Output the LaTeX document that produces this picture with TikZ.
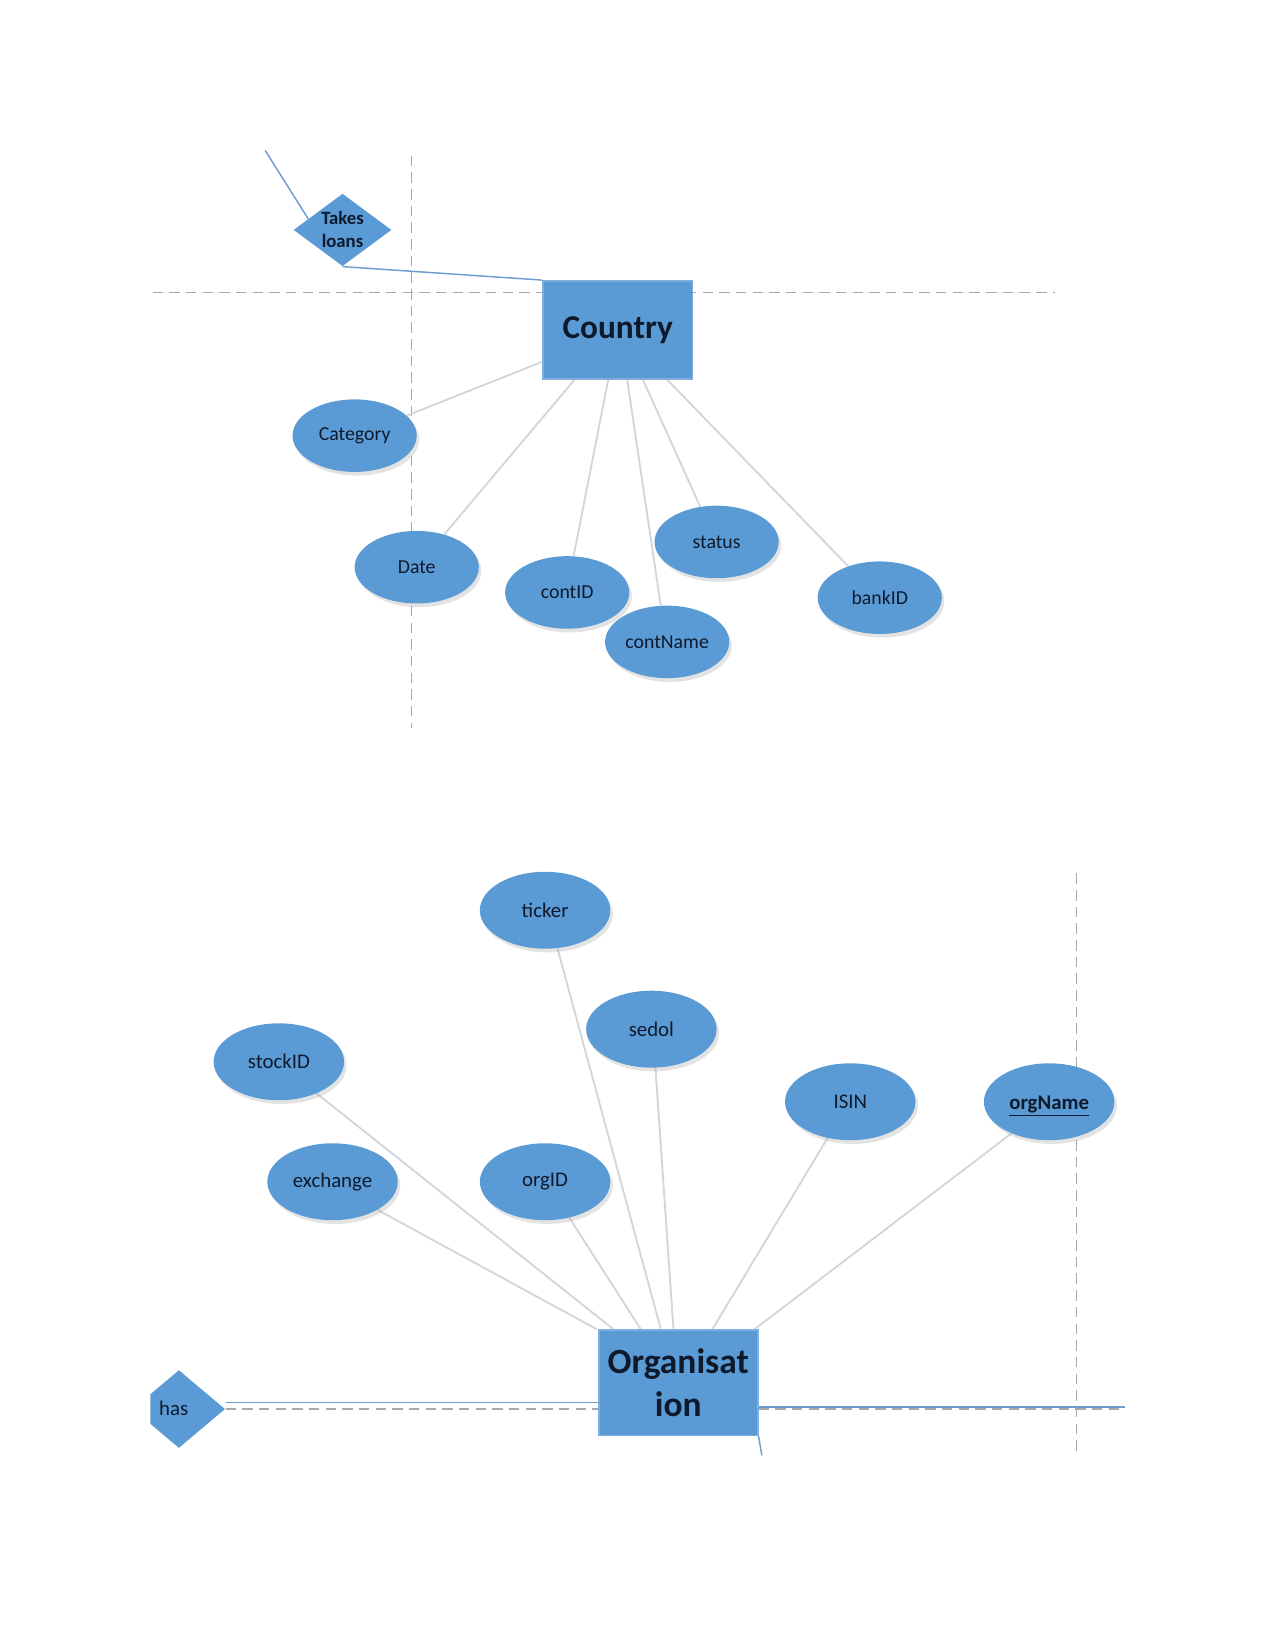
\documentclass[tikz,border=0pt]{standalone}
\usepackage{fontspec}
\setmainfont{Carlito}
\usetikzlibrary{shapes.geometric,shadows,calc}
\definecolor{efill}{HTML}{5B9BD5}
\definecolor{ebord}{HTML}{7FAEDF}
\definecolor{txt}{HTML}{0E1A2B}
\definecolor{cline}{HTML}{D2D6DA}
\definecolor{rline}{HTML}{6C9CD0}
\definecolor{gline}{HTML}{A8A8A8}
\pgfdeclarelayer{guides}
\pgfdeclarelayer{bg}
\pgfsetlayers{guides,bg,main}
\tikzset{
  attr/.style={ellipse, fill=efill, draw=none, inner sep=0pt,
    minimum width=59.6pt, minimum height=34.8pt,
    font=\fontsize{9.5}{11}\selectfont, text=txt,
    drop shadow={opacity=0.22, shadow xshift=1.2pt, shadow yshift=-1.8pt}},
  battr/.style={attr, minimum width=62.6pt, minimum height=36.9pt,
    font=\fontsize{10}{12}\selectfont},
  ent/.style={rectangle, fill=efill, draw=ebord, line width=0.8pt, inner sep=0pt,
    font=\bfseries\fontsize{16}{20.5}\selectfont, text=txt, align=center},
  relbox/.style={diamond, fill=efill, draw=none, inner sep=0pt, aspect=1.3},
  conn/.style={draw=cline, line width=0.9pt},
  rel/.style={draw=rline, line width=0.7pt},
  guide/.style={draw=gline, line width=0.6pt, dash pattern=on 5pt off 3pt},
}
\begin{document}
\begin{tikzpicture}[x=0.505pt, y=-0.505pt]
\useasboundingbox (0,0) rectangle (1212,1568);

% ---------- top part ----------
\node[ent, minimum width=71.7pt, minimum height=47pt] (country) at (587,313.5) {Country};
\node[relbox, minimum width=47pt, minimum height=34.8pt,
  label={[font=\bfseries\fontsize{9}{11}\selectfont, text=txt, align=center]center:Takes\\loans}]
  (takes) at (325.5,218.5) {};
\node[attr] (category) at (337,414) {Category};
\node[attr] (date) at (396,539) {Date};
\node[attr] (contid) at (539,563) {contID};
\node[attr] (contname) at (634,610) {contName};
\node[attr] (status) at (681,515) {status};
\node[attr] (bankid) at (836,568) {bankID};
\coordinate (tfree) at (252,143);

\begin{pgfonlayer}{guides}
  \draw[guide] (145,278) -- (1003,278);
  \draw[guide] (391,148) -- (391,692);
\end{pgfonlayer}

\begin{pgfonlayer}{bg}
  \draw[rel] (tfree) -- (takes.162);
  \draw[rel] (takes.south) -- (country.north west);
  \draw[conn] ($(country.south west)+(0,-17)$) -- (category.21);
  \draw[conn] ($(country.south)+(-41,0)$) -- (date.50);
  \draw[conn] ($(country.south)+(-9,0)$) -- (contid.80);
  \draw[conn] ($(country.south)+(9,0)$) -- (contname.100);
  \draw[conn] ($(country.south)+(24,0)$) -- (status.115);
  \draw[conn] ($(country.south)+(47,0)$) -- (bankid.135);
\end{pgfonlayer}

% ---------- bottom part ----------
\node[ent, minimum width=76.3pt, minimum height=50.5pt,
  font=\bfseries\fontsize{17}{20.5}\selectfont] (org) at (644.5,1314) {Organisat\\ion};
\node[battr] (ticker) at (518,865) {ticker};
\node[battr] (sedol) at (619,978) {sedol};
\node[battr] (stockid) at (265,1009) {stockID};
\node[battr] (isin) at (808,1047) {ISIN};
\node[battr, text height=7pt, text depth=0pt] (orgname) at (997,1047) {\underline{\textbf{orgName}}};
\node[battr] (exchange) at (316,1123) {exchange};
\node[battr] (orgid) at (518,1123) {orgID};

\begin{scope}
  \clip (143,1290) rectangle (260,1390);
  \node[relbox, minimum width=44.4pt, minimum height=37.4pt] (has) at (170,1339) {};
\end{scope}
\node[font=\fontsize{10}{12}\selectfont, text=txt, inner sep=0pt] (haslbl) at (165,1338) {has};

\coordinate (rfree) at (1069,1337);
\coordinate (bfree) at (724,1383);

\begin{pgfonlayer}{guides}
  \draw[guide] (1023,830) -- (1023,1383);
  \draw[guide] (has.east |- 0,1339) -- (org.west |- 0,1339);
  \draw[guide] (org.east |- 0,1339) -- (1069,1339);
\end{pgfonlayer}

\begin{pgfonlayer}{bg}
  \draw[rel] (has.east |- 0,1333) -- (org.west |- 0,1333);
  \draw[rel] (org.east |- 0,1337) -- (rfree);
  \draw[rel] (org.south east) -- (bfree);
  \draw[conn] (exchange.-32) -- ($(org.north west)+(-1,0)$);
  \draw[conn] (stockid.-40) -- ($(org.north)+(-61.5,0)$);
  \draw[conn] (orgid.-56) -- ($(org.north)+(-35.5,0)$);
  \draw[conn] (ticker.-72) -- ($(org.north)+(-16.5,0)$);
  \draw[conn] (sedol.-84) -- ($(org.north)+(-4.5,0)$);
  \draw[conn] (isin.-122) -- ($(org.north)+(32.5,0)$);
  \draw[conn] (orgname.-140) -- ($(org.north)+(72.5,0)$);
\end{pgfonlayer}
\end{tikzpicture}
\end{document}
